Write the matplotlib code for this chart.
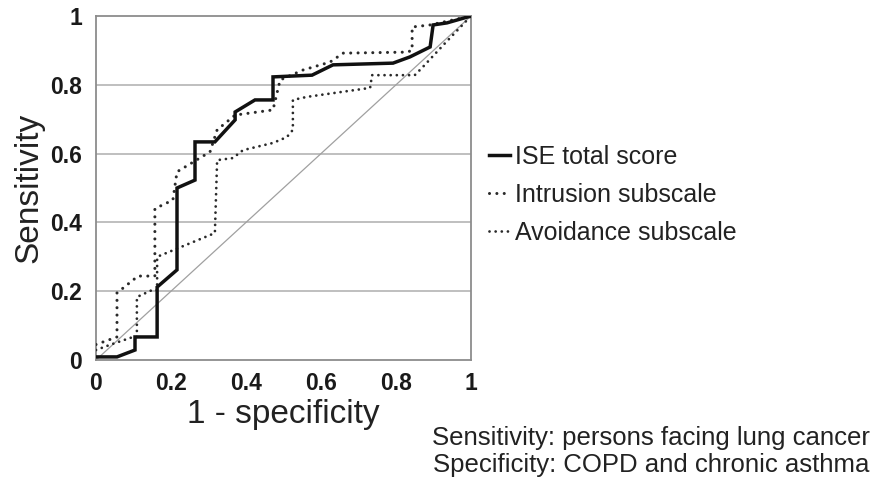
import matplotlib
matplotlib.use("Agg")
import matplotlib.pyplot as plt
from matplotlib.lines import Line2D

plt.rcParams['font.family'] = ['Liberation Sans', 'DejaVu Sans']

# ROC curve data (1 - specificity, sensitivity)
ise_x = [0, 0.056, 0.104, 0.104, 0.163, 0.163, 0.216, 0.216, 0.264, 0.264, 0.317,
         0.371, 0.371, 0.424, 0.472, 0.472, 0.576, 0.632, 0.792, 0.837, 0.891,
         0.899, 0.936, 1.0]
ise_y = [0.009, 0.009, 0.029, 0.067, 0.067, 0.212, 0.262, 0.5, 0.523, 0.634, 0.634,
         0.698, 0.721, 0.756, 0.756, 0.823, 0.828, 0.858, 0.863, 0.881, 0.910,
         0.974, 0.98, 1.0]

intr_x = [0, 0.056, 0.056, 0.112, 0.157, 0.157, 0.205, 0.216, 0.304, 0.323,
          0.371, 0.472, 0.491, 0.552, 0.624, 0.659, 0.829, 0.843, 0.843, 0.891, 1.0]
intr_y = [0.045, 0.067, 0.195, 0.244, 0.244, 0.44, 0.465, 0.547, 0.605, 0.669,
          0.712, 0.727, 0.814, 0.843, 0.866, 0.892, 0.895, 0.9, 0.968, 0.974, 1.0]

avoid_x = [0, 0.037, 0.099, 0.109, 0.109, 0.149, 0.163, 0.163, 0.317, 0.323,
           0.365, 0.392, 0.472, 0.509, 0.525, 0.525, 0.563, 0.731, 0.736, 0.85,
           0.87, 0.93, 1.0]
avoid_y = [0.029, 0.044, 0.067, 0.067, 0.183, 0.203, 0.203, 0.30, 0.369, 0.581,
           0.587, 0.61, 0.631, 0.648, 0.669, 0.756, 0.765, 0.791, 0.828, 0.828,
           0.85, 0.92, 1.0]

ticks = [0, 0.2, 0.4, 0.6, 0.8, 1]
tick_labels = ["0", "0.2", "0.4", "0.6", "0.8", "1"]
series_labels = ["ISE total score", "Intrusion subscale", "Avoidance subscale"]
note_lines = ["Sensitivity: persons facing lung cancer",
              "Specificity: COPD and chronic asthma"]

W, H = 874, 482
fig = plt.figure(figsize=(W / 100, H / 100), dpi=100)
ax = fig.add_axes([96 / W, (H - 360) / H, (471 - 96) / W, (360 - 16) / H])

ax.set_xlim(0, 1)
ax.set_ylim(0, 1)

for t in ticks[1:-1]:
    ax.axhline(t, color='#b4b4b4', lw=1.2, zorder=1)
ax.plot([0, 1], [0, 1], color='#a0a0a0', lw=0.9, zorder=2)

l1, = ax.plot(ise_x, ise_y, color='#111111', lw=2.5, solid_joinstyle='miter', zorder=4)
l2, = ax.plot(intr_x, intr_y, color='#2a2a2a', lw=2.2, linestyle=(0, (0.01, 2.4)),
              dash_capstyle='round', zorder=3)
l3, = ax.plot(avoid_x, avoid_y, color='#2a2a2a', lw=2.0, linestyle=(0, (0.01, 2.2)),
              dash_capstyle='round', zorder=3)

for s in ax.spines.values():
    s.set_color('#8c8c8c')
    s.set_linewidth(1.3)

ax.set_xticks(ticks)
ax.set_xticklabels(tick_labels)
ax.set_yticks(ticks)
ax.set_yticklabels(tick_labels)
ax.tick_params(length=0, labelsize=16.5, colors='#1a1a1a')
ax.tick_params(axis='x', pad=9)
ax.tick_params(axis='y', pad=10)
for lab in ax.get_xticklabels() + ax.get_yticklabels():
    lab.set_fontweight('bold')

ax.set_xlabel("1 - specificity", fontsize=24, color='#222222')
ax.xaxis.set_label_coords(0.5, -0.158)
ax.xaxis.label.set_va('center')
ax.set_ylabel("Sensitivity", fontsize=24, color='#222222', labelpad=4)

leg = fig.legend([l1, l2, l3], series_labels, loc='upper left',
                 bbox_to_anchor=(479 / W, 1 - 135 / H), frameon=False,
                 fontsize=18, handlelength=0.85, handletextpad=0.2,
                 labelspacing=0.55, borderaxespad=0)
for t in leg.get_texts():
    t.set_color('#222222')

fig.text(651 / W, 1 - 438 / H, note_lines[0], ha='center', va='center',
         fontsize=18.5, color='#222222')
fig.text(651 / W, 1 - 465 / H, note_lines[1], ha='center', va='center',
         fontsize=18.5, color='#222222')

fig.savefig("out.png", dpi=100)
